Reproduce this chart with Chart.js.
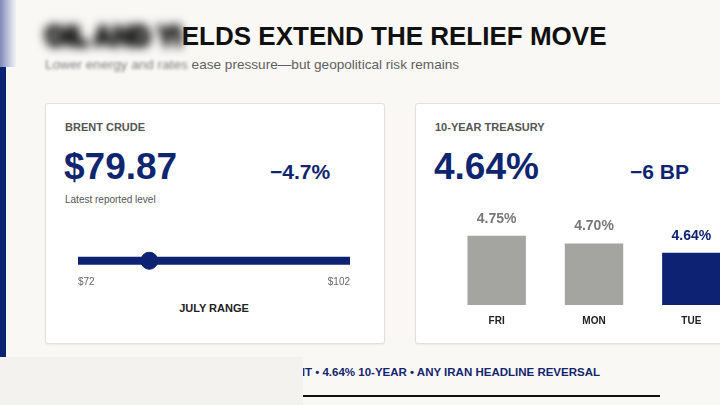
<!DOCTYPE html>
<html>
<head>
<meta charset="utf-8">
<script src="https://cdn.jsdelivr.net/npm/chart.js@4.4.1/dist/chart.umd.min.js"></script>
<style>
  html, body { margin:0; padding:0; }
  body { width:720px; height:405px; overflow:hidden; background:#f9f8f5; position:relative; font-family:"Liberation Sans", Arial, sans-serif; }
  .abs { position:absolute; white-space:nowrap; }
  .card { position:absolute; background:#fff; border:1px solid #e4e1db; border-radius:3px; box-shadow:0 1px 2px rgba(0,0,0,0.06); box-sizing:border-box; }
  .label { font-size:11px; font-weight:bold; color:#555; }
  .big { font-size:37px; font-weight:bold; color:#0f2570; line-height:40px; }
  .chg { font-size:21px; font-weight:bold; color:#0f2570; line-height:24px; }
  .blur { display:inline-block; filter:blur(5px); }
  .heavy { color:#222; text-shadow: 1px 0 #222, -1px 0 #222, 0 3px #333, 0 -3px #333, 2px 2px #333, -2px -2px #333; }
</style>
</head>
<body>
<div class="abs" style="left:0;top:0;width:16px;height:67px;background:linear-gradient(90deg,#7f88bb,#c9cce0 60%,#f3f3f3);"></div>
<div class="abs" style="left:0;top:67px;width:6px;height:290px;background:#0d2272;"></div>

<div class="abs" id="title" style="left:45px;top:23px;font-size:26px;line-height:26px;font-weight:bold;color:#111;"><span class="blur heavy">OIL AND YI</span>ELDS EXTEND THE RELIEF MOVE</div>
<div class="abs" id="sub" style="left:45px;top:57px;font-size:13.6px;line-height:16px;color:#606060;"><span class="blur" style="filter:blur(1.5px);opacity:0.8">Lower energy and rates</span> ease pressure—but geopolitical risk remains</div>

<div class="card" style="left:45px;top:103px;width:340px;height:241px;"></div>
<div class="abs label" style="left:65px;top:121px;">BRENT CRUDE</div>
<div class="abs big" id="brentBig" style="left:64px;top:147px;"></div>
<div class="abs chg" id="brentChg" style="left:270px;top:160px;"></div>
<div class="abs" style="left:65px;top:194px;font-size:10px;color:#555;">Latest reported level</div>
<canvas id="rangeChart" class="abs" style="left:65px;top:240px;width:300px;height:52px;"></canvas>
<div class="abs" style="left:114px;top:302px;width:200px;text-align:center;font-size:11px;font-weight:bold;color:#222;">JULY RANGE</div>

<div class="card" style="left:415px;top:103px;width:330px;height:241px;"></div>
<div class="abs label" style="left:435px;top:121px;">10-YEAR TREASURY</div>
<div class="abs big" id="tsyBig" style="left:434px;top:147px;"></div>
<div class="abs chg" id="tsyChg" style="left:630px;top:160px;"></div>
<canvas id="barChart" class="abs" style="left:448px;top:205px;width:292px;height:132px;"></canvas>

<div class="abs" style="left:0;top:366px;width:600px;text-align:right;font-size:11.5px;font-weight:bold;color:#14266e;">BRENT • 4.64% 10-YEAR • ANY IRAN HEADLINE REVERSAL</div>
<div class="abs" style="left:303px;top:395px;width:357px;height:1.5px;background:#111;"></div>
<div class="abs" style="left:0;top:357px;width:303px;height:48px;background:#f3f2ef;"></div>

<script>
// ---- data ----
const brentLatest = 79.87;
const brentChangePct = -4.7;
const julyRange = [72, 102];
const treasuryLatest = 4.64;
const treasuryChangeBp = -6;
const treasuryDays = ['FRI', 'MON', 'TUE'];
const treasuryYields = [4.75, 4.70, 4.64];

const NAVY = '#0d2272';
const GRAY = '#a4a4a1';

document.getElementById('brentBig').textContent = '$' + brentLatest.toFixed(2);
document.getElementById('brentChg').textContent = '\u2212' + Math.abs(brentChangePct).toFixed(1) + '%';
document.getElementById('tsyBig').textContent = treasuryLatest.toFixed(2) + '%';
document.getElementById('tsyChg').textContent = '\u2212' + Math.abs(treasuryChangeBp) + ' BP';

Chart.defaults.font.family = '"Liberation Sans", Arial, sans-serif';
Chart.defaults.animation = false;

new Chart(document.getElementById('rangeChart'), {
  type: 'scatter',
  data: {
    datasets: [
      { data: [{x: brentLatest, y: 0}], pointRadius: 8.5, pointHoverRadius: 8.5, backgroundColor: NAVY, borderColor: NAVY, order: 0 },
      { data: julyRange.map(v => ({x: v, y: 0})), showLine: true, borderColor: NAVY, borderWidth: 8, borderCapStyle: 'butt', pointRadius: 0, order: 1 }
    ]
  },
  options: {
    responsive: false,
    maintainAspectRatio: false,
    layout: { padding: { left: 13, right: 15, top: 1, bottom: 0 } },
    plugins: { legend: { display: false }, tooltip: { enabled: false } },
    scales: {
      x: {
        type: 'linear', min: julyRange[0], max: julyRange[1],
        afterBuildTicks: s => { s.ticks = julyRange.map(v => ({ value: v })); },
        ticks: { align: 'inner', padding: 4, color: '#666', font: { size: 10 }, callback: v => '$' + v, maxRotation: 0 },
        grid: { display: false, drawTicks: false }, border: { display: false }
      },
      y: { display: false, min: -1, max: 1 }
    },
    elements: { point: { hitRadius: 0 } },
    clip: false
  }
});

const valueLabels = {
  id: 'valueLabels',
  afterDatasetsDraw(chart) {
    const ctx = chart.ctx;
    const meta = chart.getDatasetMeta(0);
    ctx.save();
    ctx.textAlign = 'center';
    ctx.textBaseline = 'middle';
    ctx.font = 'bold 14px "Liberation Sans", Arial, sans-serif';
    meta.data.forEach((bar, i) => {
      ctx.fillStyle = i === meta.data.length - 1 ? NAVY : '#777';
      ctx.fillText(treasuryYields[i].toFixed(2) + '%', bar.x, bar.y - 17);
    });
    ctx.restore();
  }
};

new Chart(document.getElementById('barChart'), {
  type: 'bar',
  data: {
    labels: treasuryDays,
    datasets: [{
      data: treasuryYields,
      backgroundColor: treasuryYields.map((v, i) => i === treasuryYields.length - 1 ? NAVY : GRAY),
      barPercentage: 0.6, categoryPercentage: 1, borderWidth: 0
    }]
  },
  options: {
    responsive: false,
    maintainAspectRatio: false,
    layout: { padding: 0 },
    plugins: { legend: { display: false }, tooltip: { enabled: false } },
    scales: {
      x: { ticks: { padding: 10, color: '#222', font: { size: 10, weight: 'bold' } }, grid: { display: false, drawTicks: false }, border: { display: false } },
      y: { display: false, min: 4.3, max: 4.95 }
    }
  },
  plugins: [valueLabels]
});
</script>
</body>
</html>
